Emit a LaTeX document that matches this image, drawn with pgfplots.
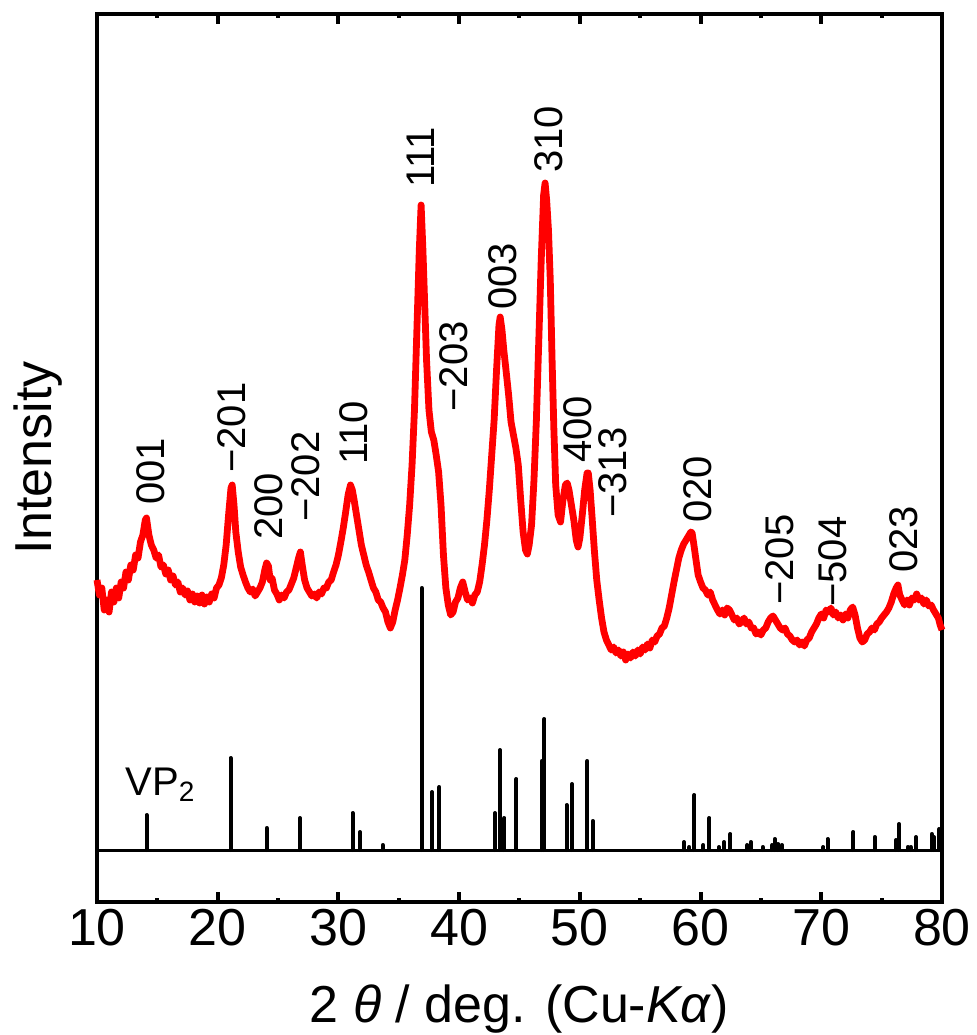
\documentclass[border=0pt]{standalone}
\usepackage{pgfplots}
\pgfplotsset{compat=1.18}
\usepackage{fontspec}
\setmainfont{Liberation Sans}

% XRD pattern: measured curve (red) and VP2 reference sticks (black)
\pgfplotstableread{
tt I
10.0 270
10.2 255
10.4 262
10.6 240
10.8 250
11.0 238
11.2 258
11.4 248
11.6 262
11.8 252
12.0 268
12.2 262
12.4 278
12.6 270
12.8 285
13.0 280
13.2 295
13.4 292
13.6 308
13.8 315
14.0 330
14.1 332
14.3 315
14.5 305
14.7 300
14.9 292
15.1 295
15.3 283
15.5 285
15.7 276
15.9 280
16.1 270
16.3 274
16.5 265
16.7 268
16.9 258
17.1 262
17.3 255
17.5 259
17.7 250
17.9 256
18.1 248
18.3 254
18.5 247
18.7 255
18.9 246
19.1 253
19.3 248
19.5 256
19.7 252
19.9 262
20.1 265
20.3 272
20.5 285
20.7 305
20.9 335
21.1 362
21.2 365
21.35 345
21.5 318
21.7 298
21.9 283
22.1 275
22.3 268
22.5 262
22.7 258
22.9 261
23.1 254
23.3 258
23.5 262
23.7 268
23.9 280
24.05 287
24.2 284
24.35 270
24.5 272
24.7 260
24.9 256
25.1 250
25.3 255
25.5 252
25.7 258
25.9 260
26.1 266
26.3 272
26.5 282
26.7 292
26.85 298
27.0 285
27.2 270
27.4 262
27.6 258
27.8 254
28.0 256
28.2 252
28.4 258
28.6 256
28.8 262
29.0 262
29.2 268
29.4 270
29.6 278
29.8 285
30.0 295
30.2 308
30.4 322
30.6 338
30.8 355
31.0 365
31.15 360
31.3 350
31.5 335
31.7 320
31.9 305
32.1 295
32.3 285
32.5 278
32.7 270
32.9 262
33.1 258
33.3 250
33.5 248
33.7 242
33.9 238
34.1 228
34.3 222
34.5 228
34.7 240
34.9 250
35.1 262
35.3 275
35.5 290
35.7 315
35.9 345
36.1 385
36.3 440
36.5 520
36.7 600
36.85 645
37.0 600
37.15 545
37.3 490
37.5 440
37.7 418
37.9 410
38.1 395
38.3 378
38.5 345
38.7 295
38.9 262
39.1 245
39.3 235
39.5 238
39.7 248
39.9 252
40.1 262
40.3 268
40.5 258
40.7 250
40.9 252
41.1 247
41.3 255
41.5 258
41.7 268
41.9 285
42.1 305
42.3 330
42.5 360
42.7 395
42.9 430
43.1 480
43.3 525
43.4 533
43.55 520
43.7 500
43.9 478
44.1 455
44.3 428
44.5 415
44.7 402
44.9 385
45.1 350
45.3 318
45.5 300
45.65 296
45.8 305
46.0 325
46.2 370
46.4 430
46.6 510
46.8 590
47.0 655
47.12 667
47.25 650
47.4 620
47.55 570
47.7 490
47.85 420
48.0 365
48.2 335
48.4 328
48.6 350
48.8 365
48.95 367
49.1 360
49.3 345
49.5 330
49.7 310
49.85 303
50.0 312
50.2 335
50.4 360
50.6 377
50.7 377
50.85 360
51.0 335
51.2 300
51.4 270
51.6 250
51.8 232
52.0 218
52.2 210
52.4 205
52.6 200
52.8 203
53.0 197
53.2 200
53.4 194
53.6 198
53.8 190
54.0 196
54.2 192
54.4 198
54.6 194
54.8 200
55.0 196
55.2 203
55.4 200
55.6 206
55.8 202
56.0 210
56.2 208
56.4 214
56.6 216
56.8 222
57.0 224
57.2 232
57.4 242
57.6 255
57.8 268
58.0 280
58.2 292
58.4 300
58.6 306
58.8 310
59.0 314
59.2 318
59.3 317
59.45 305
59.6 292
59.8 275
60.0 268
60.2 262
60.4 260
60.6 255
60.8 258
61.0 250
61.2 245
61.4 240
61.6 236
61.8 240
62.0 235
62.2 242
62.4 240
62.6 235
62.8 230
63.0 232
63.2 226
63.4 228
63.6 232
63.8 226
64.0 228
64.2 222
64.4 222
64.6 216
64.8 218
65.0 215
65.2 220
65.4 222
65.6 228
65.8 232
66.0 234
66.2 230
66.4 226
66.6 222
66.8 220
67.0 222
67.2 216
67.4 214
67.6 210
67.8 208
68.0 210
68.2 205
68.4 208
68.6 204
68.8 210
69.0 212
69.2 218
69.4 222
69.6 226
69.8 232
70.0 236
70.2 232
70.4 240
70.6 238
70.8 242
71.0 235
71.2 238
71.4 232
71.6 235
71.8 230
72.0 236
72.2 232
72.4 240
72.6 243
72.8 235
73.0 222
73.2 212
73.4 208
73.6 210
73.8 216
74.0 218
74.2 222
74.4 220
74.6 226
74.8 228
75.0 232
75.2 235
75.4 238
75.6 242
75.8 248
76.0 256
76.2 262
76.35 265
76.5 255
76.7 250
76.9 245
77.1 250
77.3 245
77.5 252
77.7 250
77.9 256
78.1 250
78.3 252
78.5 246
78.7 250
78.9 244
79.1 245
79.3 240
79.5 236
79.7 232
79.85 225
80.0 220
}\xrdcurve

\pgfplotstableread{
tt I
14.11 35
21.07 92
24.06 22
26.82 32
31.18 37
31.79 18
33.67 5
36.90 262
37.75 58
38.36 63
42.97 37
43.39 100
43.75 32
44.74 71
46.84 89
47.06 131
48.91 45
49.35 66
50.62 89
51.07 29
58.63 8
59.07 3
59.49 55
60.23 5
60.73 32
61.53 3
61.95 8
62.47 16
63.88 5
64.16 8
65.15 3
65.95 5
66.15 11
66.45 6
66.73 5
70.18 3
70.53 11
72.66 18
74.43 13
76.20 10
76.45 26
77.16 3
77.41 3
77.85 13
79.15 16
79.34 13
79.78 21
}\vptwo

\begin{document}
\begin{tikzpicture}
\begin{axis}[
    scale only axis,
    width=422.5pt,
    height=444pt,
    xmin=10, xmax=80,
    ymin=-52, ymax=836,
    xtick={10,20,...,80},
    minor x tick num=1,
    ytick=\empty,
    tick align=inside,
    major tick length=5pt,
    minor tick length=2pt,
    major tick style={line width=2pt, black},
    minor tick style={line width=2pt, black},
    axis line style={line width=2pt},
    tick label style={font=\fontsize{26}{30}\selectfont},
    /pgf/number format/assume math mode=true,
    xlabel={2 \textit{θ} / deg. (Cu-\textit{Kα})},
    xlabel style={font=\fontsize{26}{30}\selectfont, at={(axis description cs:0.5,0)}, anchor=base, yshift=-60pt},
    ylabel={Intensity},
    ylabel style={font=\fontsize{26}{30}\selectfont, at={(axis description cs:-0.0533,0.5)}, rotate=0, anchor=base},
    clip=false,
]

\addplot[red, line width=3.4pt, line join=round] table[x=tt, y=I] {\xrdcurve};

\addplot[black, line width=1.5pt] coordinates {(10,0) (80,0)};
\addplot[ycomb, black, line width=2pt, line cap=round] table[x=tt, y=I] {\vptwo};

\begin{scope}[every node/.style={font=\fontsize{20}{24}\selectfont, rotate=90, anchor=west, inner sep=0pt}]
\node at (axis cs:14.47,345) {001};
\node at (axis cs:21.18,377) {−201};
\node at (axis cs:24.25,310) {200};
\node at (axis cs:27.32,328) {−202};
\node at (axis cs:31.30,385) {110};
\node at (axis cs:36.84,662) {111};
\node at (axis cs:39.58,438) {−203};
\node at (axis cs:43.64,540) {003};
\node at (axis cs:47.45,677) {310};
\node at (axis cs:49.85,387) {400};
\node at (axis cs:52.75,332) {−313};
\node at (axis cs:59.79,327) {020};
\node at (axis cs:66.59,245) {−205};
\node at (axis cs:70.98,243) {−504};
\node at (axis cs:76.86,277) {023};
\end{scope}
\node[font=\fontsize{20}{24}\selectfont, anchor=base west, inner sep=0pt] at (axis cs:12.32,55) {VP\textsubscript{2}};
\end{axis}
\pgfresetboundingbox
\useasboundingbox (-48.5pt,-66.5pt) rectangle (440pt,451pt);
\end{tikzpicture}
\end{document}
